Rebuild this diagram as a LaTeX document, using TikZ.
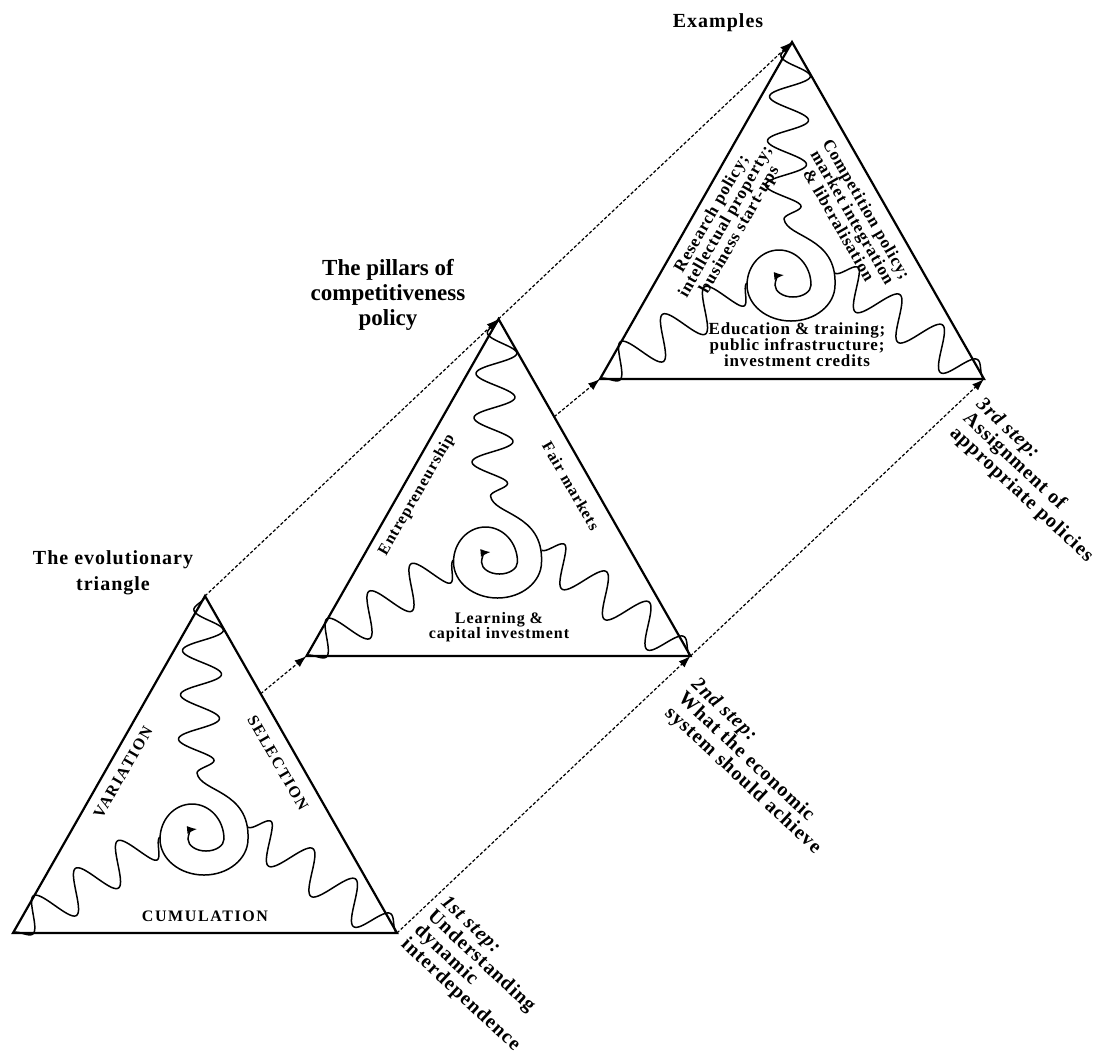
\documentclass[tikz,border=0pt]{standalone}
\usepackage{fontspec}
\setmainfont{Liberation Serif}
\newfontfamily\headfont[LetterSpace=5]{Liberation Serif}
\newfontfamily\capsfont[LetterSpace=10]{Liberation Serif}
\newfontfamily\sidefont[LetterSpace=6]{Liberation Serif}
\usetikzlibrary{arrows.meta,calc}

% wavy arm from a vertex to the spiral: #1 vertex, #2 end, #3 periods
\newcommand\armamp{10}
\newcommand\wavyarm[3]{%
  \path let \p1=($(#2)-(#1)$), \n1={veclen(\x1,\y1)}, \n2={atan2(\y1,\x1)} in
    \pgfextra{\pgfmathsetmacro\armlen{\n1}\global\let\armlen\armlen
              \pgfmathsetmacro\armang{\n2}\global\let\armang\armang};
  \draw[armline, shift={(#1)}, rotate=\armang, x=1pt, y=1pt]
    plot[variable=\t, domain=0:1, samples=160, smooth]
    ({\t*\armlen}, {-\armamp*sin(min(\t*\armlen/18,1)*90)*sin(min((1-\t)*\armlen/10,1)*90)*sin(\t*#3*360)});
}

\begin{document}
\begin{tikzpicture}[
x=0.5pt, y=-0.5pt,
tri/.style={line width=1.1pt},
armline/.style={line width=0.75pt},
guide/.style={line width=0.6pt, dash pattern=on 1.6pt off 1pt, -{Latex[length=6pt,width=4.2pt]}},
head/.style={font={\headfont\bfseries\fontsize{10}{13}\selectfont}, align=center, inner sep=0pt},
pillar/.style={font={\bfseries\fontsize{11.5}{12.5}\selectfont}, align=center, inner sep=0pt},
caps/.style={font={\capsfont\bfseries\fontsize{8}{8}\selectfont}, inner sep=0pt},
side/.style={font={\sidefont\bfseries\fontsize{8}{7.5}\selectfont}, align=center, inner sep=0pt},
side3/.style={font={\headfont\bfseries\fontsize{8.5}{8}\selectfont}, align=center, inner sep=0pt},
steplab/.style={font={\headfont\bfseries\fontsize{10}{9.7}\selectfont}, align=left, inner sep=0pt, rotate=-43, anchor=north west}
]
\useasboundingbox (0,0) rectangle (1111,1056);

% the three triangles
\foreach \i/\dx/\dy in {1/0/0, 2/293.5/-277, 3/587/-554} {
  \begin{scope}[shift={(\dx,\dy)}]
    \coordinate (L\i) at (13,933);
    \coordinate (R\i) at (397,933);
    \coordinate (A\i) at (205,596);
    \coordinate (J\i) at (197,773);
    \coordinate (PL\i) at (160,837);
    \coordinate (PR\i) at (248,827);
    \draw[tri] (L\i) -- (A\i) -- (R\i) -- cycle;
    % spiral
    \draw[armline, -{Latex[length=5pt,width=4pt]}] (J\i) .. controls (200,792) and (250,790) .. (248,839)
      arc[start angle=0, end angle=180, x radius=44, y radius=36]
      arc[start angle=180, end angle=360, x radius=32, y radius=35]
      arc[start angle=0, end angle=180, x radius=18, y radius=12]
      arc[start angle=180, end angle=265, x radius=10, y radius=10];
  \end{scope}
}

\foreach \i in {1,2,3} {
  \wavyarm{A\i}{J\i}{4}
  \wavyarm{L\i}{PL\i}{3.5}
  \wavyarm{R\i}{PR\i}{3.5}
  \coordinate (S\i) at ($(A\i)!0.29!(R\i)$);
}

% dotted links
\foreach \i/\j in {1/2, 2/3} {
  \draw[guide] (A\i) -- (A\j);
  \draw[guide] (R\i) -- (R\j);
  \draw[guide] (S\i) -- (L\j);
}

% headings
\node[head] (evol) at (113,573) {The evolutionary\\triangle};
\node[pillar] (pill) at (388,295) {The pillars of\\competitiveness\\policy};
\node[head] (examp) at (718,23) {Examples};

% evolutionary triangle
\node[caps, rotate=60] (var) at (123,772) {VARIATION};
\node[caps, rotate=-60] (sel) at (278,763) {SELECTION};
\node[caps] (cum) at (205,916) {CUMULATION};

% pillars
\node[side, rotate=60] (entre) at (417,495) {Entrepreneurship};
\node[side, rotate=-60] (fair) at (571,486) {Fair markets};
\node[side] (learn) at (499,627) {Learning \&\\capital investment};

% examples
\node[side3, rotate=60] (research) at (726,222) {Research policy;\\intellectual property;\\business start-ups};
\node[side3, rotate=-60] (compet) at (853,217) {Competition policy;\\market integration\\\& liberalisation};
\node[side3] (educ) at (797,345) {Education \& training;\\public infrastructure;\\investment credits};

% steps
\node[steplab] (step1) at (449,893) {\textit{1st step:}\\Understanding\\dynamic\\interdependence};
\node[steplab] (step2) at (700,675) {\textit{2nd step:}\\What the economic\\system should achieve};
\node[steplab] (step3) at (985,395) {\textit{3rd step:}\\Assignment of\\appropriate policies};
\end{tikzpicture}
\end{document}
